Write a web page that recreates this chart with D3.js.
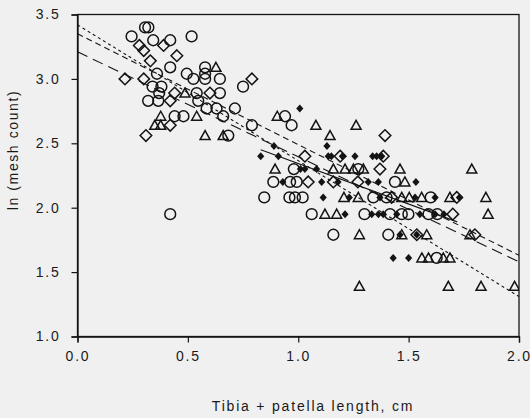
<!DOCTYPE html>
<html><head><meta charset="utf-8">
<script src="https://cdn.jsdelivr.net/npm/d3@7"></script>
<style>
html,body{margin:0;padding:0;background:#f0f0f0;}
svg{display:block;}
text{font-family:"Liberation Sans",Arial,Helvetica,sans-serif;fill:#1a1a1a;}
</style></head><body>
<svg id="c" width="530" height="418"></svg>
<script>
// ---- data (x = tibia+patella length cm, y = ln mesh count) ----
const openCircles = [
 [0.306,3.40],[0.321,3.40],[0.245,3.33],[0.517,3.33],[0.343,3.30],[0.42,3.30],
 [0.42,3.09],[0.578,3.09],[0.578,3.04],[0.495,3.04],[0.36,3.04],[0.525,3.00],[0.578,3.00],[0.645,3.00],
 [0.38,2.94],[0.34,2.94],[0.75,2.94],[0.54,2.89],[0.645,2.89],[0.37,2.89],
 [0.32,2.83],[0.366,2.83],[0.547,2.83],
 [0.585,2.77],[0.63,2.77],[0.713,2.77],
 [0.48,2.71],[0.44,2.71],[0.66,2.71],[0.94,2.71],
 [0.79,2.64],[0.97,2.64],[0.683,2.56],
 [0.42,1.95],
 [0.98,2.30],[1.272,2.30],
 [0.887,2.20],[0.963,2.20],[0.993,2.20],[1.438,2.20],
 [0.846,2.08],[0.96,2.08],[0.985,2.08],[1.02,2.08],[1.34,2.08],[1.40,2.08],[1.60,2.08],
 [1.061,1.95],[1.30,1.95],[1.416,1.95],[1.469,1.95],[1.499,1.95],[1.59,1.95],[1.63,1.95],
 [1.159,1.79],[1.408,1.79],
 [1.627,1.61]
];
const openDiamonds = [
 [0.28,3.26],[0.30,3.22],[0.39,3.26],[0.33,3.14],[0.45,3.18],[0.215,3.00],[0.30,3.00],
 [0.44,2.89],[0.60,2.89],[0.42,2.83],[0.42,2.64],[0.31,2.56],[0.79,3.00],
 [1.393,2.56],[1.03,2.40],[1.19,2.40],[1.385,2.40],[1.37,2.30],[1.045,2.20],[1.159,2.20],
 [1.27,2.20],[1.423,2.08],[1.718,2.08],[1.70,1.95],[1.537,1.79],[1.80,1.79]
];
const openTriangles = [
 [0.627,3.09],[0.487,2.89],[0.377,2.71],[0.54,2.71],[0.35,2.64],[0.377,2.64],[0.578,2.56],[0.66,2.56],
 [0.905,2.71],[1.08,2.64],[1.144,2.56],[1.262,2.64],
 [0.895,2.30],[1.159,2.30],[1.212,2.30],[1.25,2.30],[1.295,2.30],[1.461,2.30],[1.786,2.30],
 [1.483,2.20],
 [1.207,2.08],[1.272,2.08],[1.469,2.08],[1.503,2.08],[1.559,2.08],[1.687,2.08],[1.85,2.08],
 [1.121,1.95],[1.174,1.95],[1.86,1.95],
 [1.277,1.79],[1.469,1.79],[1.582,1.79],[1.778,1.79],
 [1.56,1.61],[1.59,1.61],[1.657,1.61],[1.687,1.61],
 [1.277,1.39],[1.68,1.39],[1.828,1.39],[1.98,1.39]
];
const filledDiamonds = [
 [1.007,2.77],[0.89,2.48],[1.13,2.48],
 [0.83,2.40],[0.91,2.40],[1.136,2.40],[1.15,2.40],[1.20,2.40],[1.257,2.40],[1.337,2.40],[1.355,2.40],[1.378,2.40],
 [1.01,2.30],[1.03,2.30],[1.083,2.30],
 [0.93,2.20],[1.106,2.20],[1.18,2.20],[1.317,2.20],[1.363,2.20],[1.533,2.20],
 [1.113,2.08],[1.231,2.08],[1.37,2.08],[1.529,2.08],[1.62,2.08],[1.73,2.08],
 [1.212,1.95],[1.333,1.95],[1.363,1.95],[1.385,1.95],[1.446,1.95],[1.551,1.95],[1.62,1.95],[1.66,1.95],
 [1.461,1.79],[1.537,1.79],
 [1.43,1.61],[1.50,1.61]
];
// regression lines: [x0, y0, x1, y1]
const fitShortDash  = [0.0, 3.42, 2.0, 1.31];
const fitMediumDash = [0.0, 3.35, 2.0, 1.63];
const fitLongDash   = [0.0, 3.21, 2.0, 1.58];
const fitSolid      = [0.83, 2.45, 1.72, 1.89];

const xTicks = [0.0, 0.5, 1.0, 1.5, 2.0];
const yTicks = [1.0, 1.5, 2.0, 2.5, 3.0, 3.5];
const xTitle = "Tibia + patella length, cm";
const yTitle = "ln (mesh count)";

// ---- drawing ----
const svg = d3.select("#c");
const L = 77.5, R = 519, T = 14.5, B = 336.5;
const x = d3.scaleLinear().domain([0, 2]).range([L, R]);
const y = d3.scaleLinear().domain([1, 3.5]).range([B, T]);
const ink = "#141414";

svg.append("defs").append("clipPath").attr("id","clip")
  .append("rect").attr("x",L).attr("y",T).attr("width",R-L).attr("height",B-T);

svg.append("rect").attr("x",L).attr("y",T).attr("width",R-L).attr("height",B-T)
  .attr("fill","none").attr("stroke",ink).attr("stroke-width",1.3);

const fmt = d3.format(".1f");
const xAxis = svg.append("g").attr("transform",`translate(0,${B})`)
  .call(d3.axisBottom(x).tickValues(xTicks).tickFormat(fmt).tickSize(6).tickPadding(6));
const yAxis = svg.append("g").attr("transform",`translate(${L},0)`)
  .call(d3.axisLeft(y).tickValues(yTicks).tickFormat(fmt).tickSize(6).tickPadding(11));
[xAxis,yAxis].forEach(g=>{
  g.select(".domain").attr("stroke",ink).attr("stroke-width",1.3);
  g.selectAll(".tick line").attr("stroke",ink).attr("stroke-width",1.2);
  g.selectAll(".tick text").attr("font-size",14).attr("letter-spacing","1.8px")
    .attr("fill","#1a1a1a").attr("font-family",'"Liberation Sans",Arial,sans-serif');
});
xAxis.selectAll(".tick text").attr("dy","0.9em");

svg.append("text").attr("x",313).attr("y",411).attr("text-anchor","middle")
  .attr("font-size",14).attr("letter-spacing","1.8px").text(xTitle);
svg.append("text").attr("transform","translate(18,150) rotate(-90)")
  .attr("text-anchor","middle").attr("font-size",14).attr("letter-spacing","1.6px").text(yTitle);

const plot = svg.append("g").attr("clip-path","url(#clip)");

const sw = 1.5;
plot.selectAll("circle.oc").data(openCircles).join("circle")
  .attr("cx",d=>x(d[0])).attr("cy",d=>y(d[1])).attr("r",5.4)
  .attr("fill","none").attr("stroke",ink).attr("stroke-width",sw);
const dia = (s)=>`M0,${-s}L${s},0L0,${s}L${-s},0Z`;
plot.selectAll("path.od").data(openDiamonds).join("path")
  .attr("transform",d=>`translate(${x(d[0])},${y(d[1])})`).attr("d",dia(5.8))
  .attr("fill","none").attr("stroke",ink).attr("stroke-width",sw);
plot.selectAll("path.ot").data(openTriangles).join("path")
  .attr("transform",d=>`translate(${x(d[0])},${y(d[1])})`)
  .attr("d","M0,-5L5,4L-5,4Z")
  .attr("fill","none").attr("stroke",ink).attr("stroke-width",sw).attr("stroke-linejoin","miter");
plot.selectAll("path.fd").data(filledDiamonds).join("path")
  .attr("transform",d=>`translate(${x(d[0])},${y(d[1])})`)
  .attr("d","M0,-4L3.6,0L0,4L-3.6,0Z")
  .attr("fill",ink).attr("stroke","none");

const fits = [
  {f: fitShortDash, dash: "3,3"},
  {f: fitMediumDash, dash: "6,4"},
  {f: fitLongDash, dash: "11,6"},
  {f: fitSolid, dash: null}
];
fits.forEach(o=>{
  const ln = plot.append("line")
    .attr("x1",x(o.f[0])).attr("y1",y(o.f[1])).attr("x2",x(o.f[2])).attr("y2",y(o.f[3]))
    .attr("stroke",ink).attr("stroke-width",1.1);
  if(o.dash) ln.attr("stroke-dasharray",o.dash);
});
</script>
</body></html>
